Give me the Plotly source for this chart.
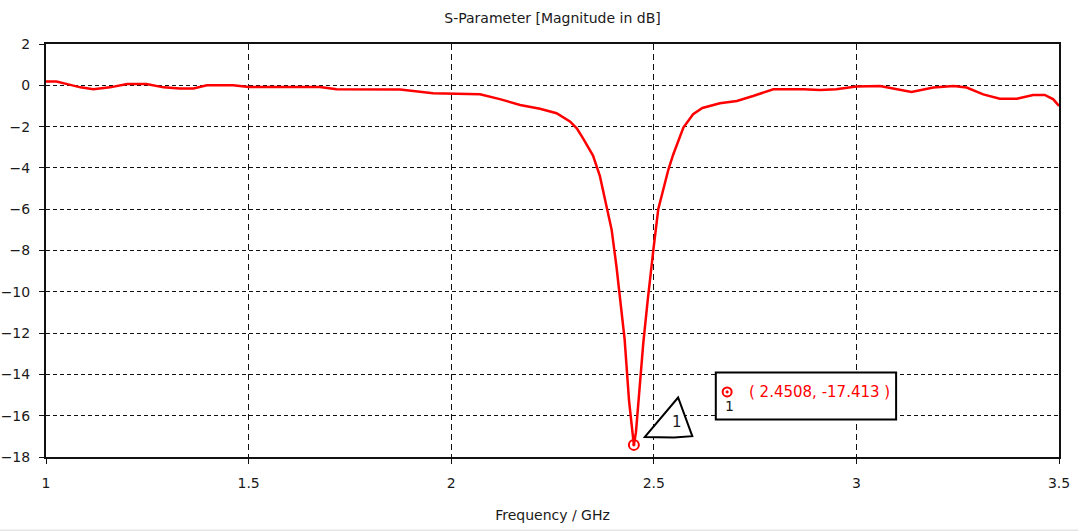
import plotly.graph_objects as go

# ---- data ----
freq_ghz = [1.00, 1.026, 1.06, 1.085, 1.117, 1.158, 1.20, 1.248, 1.29, 1.33, 1.364, 1.397,
            1.462, 1.50, 1.602, 1.676, 1.717, 1.775, 1.874, 1.955, 2.071, 2.12, 2.17,
            2.219, 2.26, 2.293, 2.31, 2.325, 2.35, 2.367, 2.384, 2.396, 2.408, 2.418,
            2.428, 2.439, 2.446, 2.4508, 2.456, 2.462, 2.474, 2.485, 2.49, 2.499, 2.511,
            2.523, 2.536, 2.548, 2.573, 2.597, 2.62, 2.663, 2.705, 2.745, 2.795, 2.869,
            2.91, 2.95, 3.00, 3.058, 3.09, 3.136, 3.19, 3.24, 3.272, 3.313, 3.354, 3.396,
            3.436, 3.465, 3.486, 3.50]
s11_db = [0.18, 0.18, 0.02, -0.10, -0.19, -0.10, 0.06, 0.06, -0.10, -0.15, -0.15, 0.00,
          0.00, -0.08, -0.08, -0.08, -0.19, -0.20, -0.20, -0.38, -0.43, -0.67, -0.95,
          -1.14, -1.35, -1.75, -2.08, -2.56, -3.4, -4.4, -5.9, -7.0, -8.8, -10.4,
          -12.3, -15.3, -16.6, -17.413, -16.8, -15.3, -12.5, -10.4, -9.4, -7.96, -6.0,
          -5.05, -4.08, -3.35, -2.05, -1.40, -1.10, -0.87, -0.76, -0.52, -0.19, -0.19,
          -0.23, -0.19, -0.06, -0.03, -0.16, -0.32, -0.11, -0.03, -0.11, -0.44, -0.65, -0.65,
          -0.47, -0.47, -0.68, -1.00]

marker_x = [2.4508]
marker_y = [-17.413]
marker_label = "( 2.4508, -17.413 )"

x_ticks = [1, 1.5, 2, 2.5, 3, 3.5]
x_ticktext = ["1", "1.5", "2", "2.5", "3", "3.5"]
y_ticks = [2, 0, -2, -4, -6, -8, -10, -12, -14, -16, -18]

FONT = "DejaVu Sans"
TXT = "#1a1a1a"
RED = "#ff0000"

fig = go.Figure()
fig.add_trace(go.Scatter(x=freq_ghz, y=s11_db, mode="lines",
                         line=dict(color=RED, width=2.5), showlegend=False, hoverinfo="x+y"))
fig.add_trace(go.Scatter(x=marker_x, y=marker_y, mode="markers",
                         marker=dict(symbol="circle-open-dot", size=10, color=RED,
                                     line=dict(color=RED, width=2)),
                         showlegend=False))

# marker label box (in data units), drawn between grid and traces
box_x0, box_x1 = 2.653, 3.098
box_y0, box_y1 = -16.19, -13.91
fig.add_shape(type="rect", x0=box_x0, x1=box_x1, y0=box_y0, y1=box_y1,
              line=dict(color="black", width=2), fillcolor="white", layer="between")
# marker symbol inside box
fig.add_trace(go.Scatter(x=[2.681], y=[-14.85], mode="markers",
                         marker=dict(symbol="circle-open-dot", size=9, color=RED,
                                     line=dict(color=RED, width=2)),
                         showlegend=False, hoverinfo="skip"))
fig.add_annotation(x=2.688, y=-15.55, text="1", showarrow=False, xanchor="center",
                   font=dict(family=FONT, size=14, color=TXT))
fig.add_annotation(x=2.73, y=-14.85, text=marker_label, showarrow=False, xanchor="left",
                   font=dict(family=FONT, size=15, color=RED))

# triangle marker tag
fig.add_shape(type="path",
              path="M 2.478 -17.03 L 2.560 -15.12 L 2.595 -16.99 L 2.55 -17.05 Z",
              line=dict(color="black", width=2), fillcolor="white", layer="above")
fig.add_annotation(x=2.557, y=-16.3, text="1", showarrow=False,
                   font=dict(family=FONT, size=15, color=TXT))

# bottom light strip
fig.add_shape(type="line", xref="paper", yref="paper", x0=-0.06, x1=1.03,
              y0=-0.178, y1=-0.178, line=dict(color="#e6e6e6", width=2))

axis_common = dict(showline=True, linecolor="#111", linewidth=2, mirror=True,
                   showgrid=True, gridcolor="#111", gridwidth=1,
                   ticks="outside", ticklen=5, tickcolor="#111", tickwidth=1,
                   zeroline=False, automargin=False,
                   tickfont=dict(family=FONT, size=14, color=TXT))

fig.update_xaxes(range=[1, 3.5], tickvals=x_ticks, ticktext=x_ticktext,
                 griddash="6px,4px", ticklabelstandoff=7,
                 title=dict(text="Frequency / GHz", font=dict(family=FONT, size=14, color=TXT),
                            standoff=20),
                 **axis_common)
fig.update_yaxes(range=[-18, 2], tickvals=y_ticks, griddash="4px,3px",
                 ticklabelstandoff=6, **axis_common)

fig.update_layout(
    width=1078, height=531,
    margin=dict(l=46, r=19, t=44, b=74),
    paper_bgcolor="white", plot_bgcolor="white",
    title=dict(text="S-Parameter [Magnitude in dB]", x=0.5, xref="paper", xanchor="center",
               y=1 - 18 / 531, yanchor="middle",
               font=dict(family=FONT, size=14, color=TXT)),
    showlegend=False,
)

fig.write_html("out.html")
